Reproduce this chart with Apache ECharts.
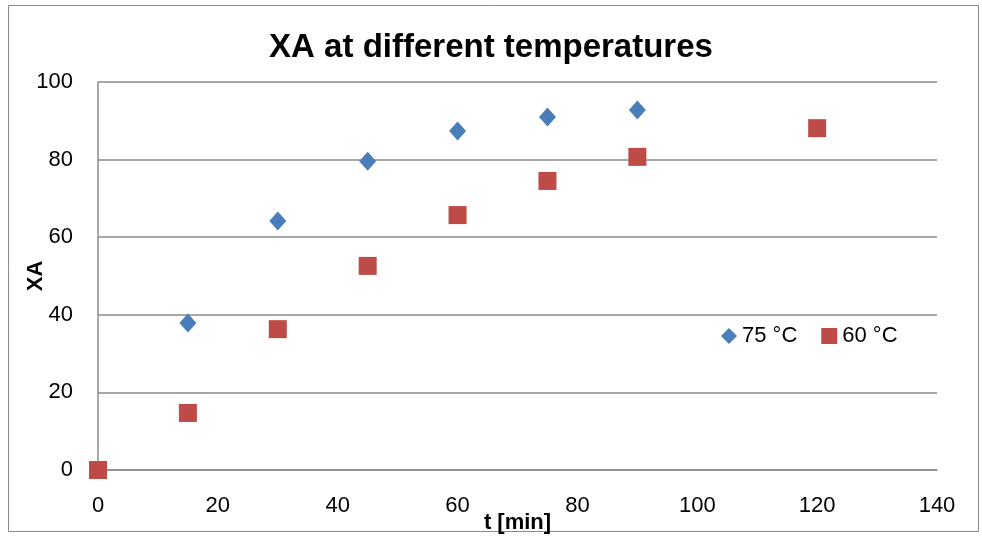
<!DOCTYPE html>
<html>
<head>
<meta charset="utf-8">
<script src="https://cdn.jsdelivr.net/npm/echarts@6/dist/echarts.min.js"></script>
<style>
  html, body { margin: 0; padding: 0; background: #fff; }
  #chart { width: 982px; height: 536px; }
</style>
</head>
<body>
<div id="chart"></div>
<script>
// data
var t75 = [15, 30, 45, 60, 75, 90]
var xa75 = [37.9, 64.2, 79.6, 87.4, 91.0, 92.8]
var t60 = [0, 15, 30, 45, 60, 75, 90, 120]
var xa60 = [0, 14.7, 36.3, 52.6, 65.7, 74.5, 80.7, 88.1]

function pairs(xs, ys) {
  return xs.map(function (x, i) { return [x, ys[i]] })
}

var font = 'Liberation Sans'
var chart = echarts.init(document.getElementById('chart'))

chart.setOption({
  animation: false,
  textStyle: { fontFamily: font },
  title: {
    text: 'XA at different temperatures',
    left: 'center',
    top: 26,
    textStyle: { fontSize: 33, fontWeight: 'bold', color: '#000', fontFamily: font }
  },
  graphic: [{
    type: 'rect',
    shape: { x: 8.5, y: 5.5, width: 970, height: 526 },
    style: { fill: 'none', stroke: '#8a8a8a', lineWidth: 1 },
    silent: true
  }],
  legend: {
    left: 721,
    top: 325,
    padding: 0,
    itemWidth: 16,
    itemHeight: 16,
    itemGap: 24,
    textStyle: { fontSize: 22, color: '#000', fontFamily: font },
    data: [
      { name: '75 °C', icon: 'diamond' },
      { name: '60 °C', icon: 'rect' }
    ]
  },
  grid: { left: 98, right: 45, top: 82, bottom: 66, outerBoundsMode: 'none' },
  xAxis: {
    type: 'value',
    min: 0,
    max: 140,
    interval: 20,
    name: 't [min]',
    nameLocation: 'middle',
    nameGap: 42,
    nameMoveOverlap: false,
    nameTextStyle: { fontSize: 22, fontWeight: 'bold', color: '#000' },
    axisLine: { show: true, onZero: false, lineStyle: { color: '#8a8a8a', width: 1.5 } },
    axisTick: { show: false },
    axisLabel: { fontSize: 22, color: '#000', margin: 25 },
    splitLine: { show: false }
  },
  yAxis: {
    type: 'value',
    min: 0,
    max: 100,
    interval: 20,
    name: 'XA',
    nameLocation: 'middle',
    nameGap: 51,
    nameMoveOverlap: false,
    nameTextStyle: { fontSize: 22, fontWeight: 'bold', color: '#000' },
    axisLine: { show: true, lineStyle: { color: '#8a8a8a', width: 1.5 } },
    axisTick: { show: false },
    axisLabel: { fontSize: 22, color: '#000', margin: 25 },
    splitLine: { show: true, lineStyle: { color: '#8a8a8a', width: 1.5 } }
  },
  series: [
    {
      name: '75 °C',
      type: 'scatter',
      symbol: 'diamond',
      symbolSize: [17, 19],
      itemStyle: { color: '#4a7ebb', opacity: 1 },
      data: pairs(t75, xa75)
    },
    {
      name: '60 °C',
      type: 'scatter',
      symbol: 'rect',
      symbolSize: 18,
      itemStyle: { color: '#be4b48', opacity: 1 },
      data: pairs(t60, xa60)
    }
  ]
})
</script>
</body>
</html>
